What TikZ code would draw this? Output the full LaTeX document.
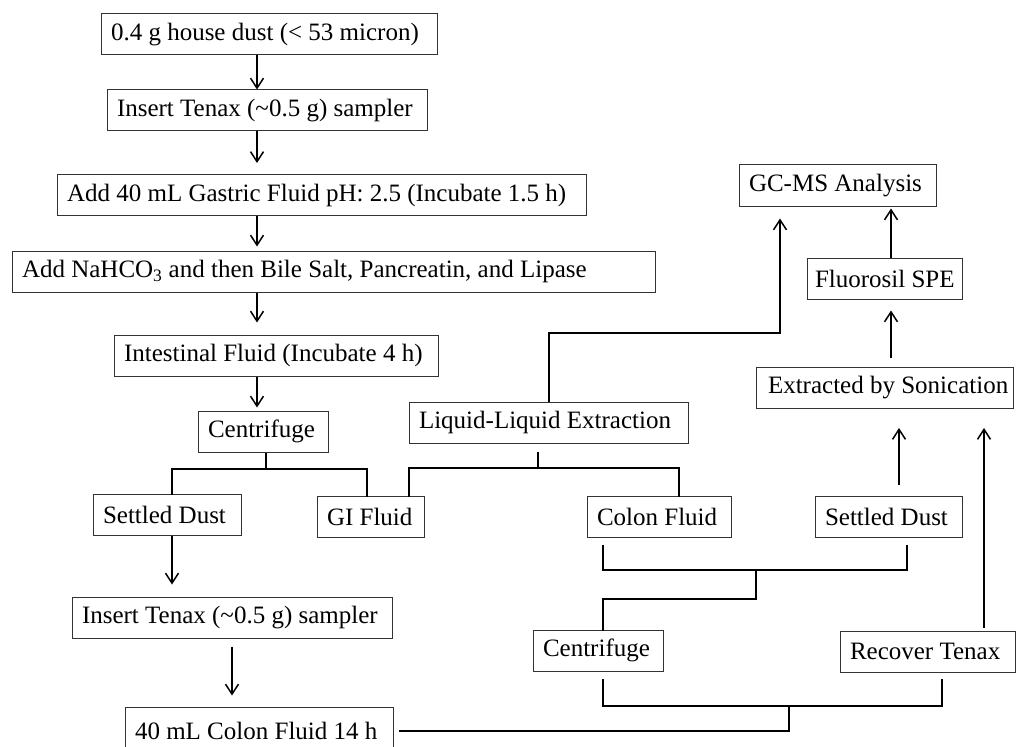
\documentclass[tikz,border=0pt]{standalone}
\usepackage{fontspec}
\setmainfont{Liberation Serif}
\usetikzlibrary{arrows.meta,calc}
\newcommand{\bx}[2]{\makebox[#1][l]{#2}}
\begin{document}
\begin{tikzpicture}[x=1pt,y=-1pt,
  box/.style={draw=black!80, line width=1pt, inner xsep=10pt, inner ysep=0pt, minimum height=41pt,
    font=\fontsize{25}{30}\selectfont},
  arr/.style={line width=1.5pt, -{Straight Barb[length=10pt,width=13pt,line width=1.5pt]}},
  brk/.style={line width=2.8pt, line cap=rect},
  thinl/.style={line width=2pt}]
\useasboundingbox (0,0) rectangle (1016,746);
\clip (0,0) rectangle (1016,746);
% x positions
\coordinate (x257) at (257,0);
\coordinate (x266) at (266,0);
\coordinate (x172) at (172,0);
\coordinate (x367) at (367,0);
\coordinate (x232) at (232,0);
\coordinate (x409) at (409,0);
\coordinate (x679) at (679,0);
\coordinate (x603) at (603,0);
\coordinate (x907) at (907,0);
\coordinate (x942) at (942,0);
\coordinate (x891) at (891,0);
\coordinate (x899) at (899,0);
\coordinate (x984) at (984,0);
% nodes
\node[box] (n1) at (269,34.5) {\bx{316pt}{0.4 g house dust (< 53 micron)}};
\node[box] (n2) at (267,110.5) {\bx{300pt}{Insert Tenax (\textasciitilde0.5 g) sampler}};
\node[box] (n3) at (321.5,195) {\bx{509pt}{Add 40 mL Gastric Fluid pH: 2.5 (Incubate 1.5 h)}};
\node[box] (n4) at (333.5,271.5) {\bx{623pt}{Add NaHCO\textsubscript{3} and then Bile Salt, Pancreatin, and Lipase}};
\node[box] (n5) at (276,355.5) {\bx{304pt}{Intestinal Fluid (Incubate 4 h)}};
\node[box] (c1) at (263,431.5) {\bx{110pt}{Centrifuge}};
\node[box] (sdL) at (167,515) {\bx{128pt}{Settled Dust}};
\node[box] (gi) at (370.5,516.5) {\bx{87pt}{GI Fluid}};
\node[box] (ll) at (548.5,422.5) {\bx{259pt}{Liquid-Liquid Extraction}};
\node[box] (gc) at (837.5,185.5) {\bx{177pt}{GC-MS Analysis}};
\node[box, inner xsep=8pt] (fl) at (884.5,278.5) {\bx{139pt}{Fluorosil SPE}};
\node[box, inner xsep=12pt] (ex) at (884.5,388) {\bx{233pt}{Extracted by Sonication}};
\node[box] (cf) at (659,516.5) {\bx{124pt}{Colon Fluid}};
\node[box] (sdR) at (888.5,516.5) {\bx{127pt}{Settled Dust}};
\node[box] (c2) at (598,650.5) {\bx{110pt}{Centrifuge}};
\node[box] (rt) at (927.5,651.5) {\bx{155pt}{Recover Tenax}};
\node[box] (it2) at (232,617.5) {\bx{300pt}{Insert Tenax (\textasciitilde0.5 g) sampler}};
\node[box, minimum height=48pt] (bot) at (259,731) {\bx{248pt}{40 mL Colon Fluid 14 h}};
% junctions
\coordinate (j1) at (266,469);
\coordinate (j2) at (538,468);
\coordinate (j3) at (780,333);
\coordinate (j4) at (756,570);
\coordinate (j5) at (603,599);
\coordinate (j6) at (789,706);
% main chain
\draw[arr] (n1.south -| x257) -- (n2.north -| x257);
\draw[arr, shorten >=11pt] (n2.south -| x257) -- (n3.north -| x257);
\draw[arr, shorten >=4pt] (n3.south -| x257) -- (n4.north -| x257);
\draw[arr, shorten >=12pt] (n4.south -| x257) -- (n5.north -| x257);
\draw[arr, shorten >=3pt] (n5.south -| x257) -- (c1.north -| x257);
% centrifuge split
\draw[thinl] (c1.south -| x266) -- (j1);
\draw[brk] (sdL.north -| x172) |- (j1) -| (gi.north -| x367);
% left lower chain
\draw[arr, shorten >=12pt] (sdL.south -| x172) -- (it2.north -| x172);
\draw[arr, shorten <=8pt, shorten >=11pt] (it2.south -| x232) -- (bot.north -| x232);
% GI / colon to liquid-liquid
\draw[brk] (gi.north -| x409) |- (j2) -| (cf.north -| x679);
\draw[brk, shorten <=10pt] (ll.south -| j2) -- (j2);
% liquid-liquid to GC-MS
\draw[arr, line width=2pt, shorten >=12pt] (ll.north) |- (j3) -- (gc.south -| j3);
% right column
\draw[arr, line width=2pt, shorten >=2pt] (fl.north -| x891) -- (gc.south -| x891);
\draw[arr, line width=2pt, shorten <=9pt, shorten >=11pt] (ex.north -| x891) -- (fl.south -| x891);
\draw[arr, line width=2pt, shorten <=11pt, shorten >=19pt] (sdR.north -| x899) -- (ex.south -| x899);
\draw[arr, line width=2pt, shorten <=3pt, shorten >=19pt] (rt.north -| x984) -- (ex.south -| x984);
% colon / settled dust bracket
\draw[brk, shorten <=9pt, shorten >=9pt] (cf.south -| x603) |- (j4) -| (sdR.south -| x907);
\draw[brk] (j4) |- (j5) -- (c2.north -| j5);
% centrifuge / recover tenax bracket
\draw[brk, shorten <=9pt, shorten >=8pt] (c2.south -| x603) |- (j6) -| (rt.south -| x942);
\draw[brk, shorten >=7pt] (j6) |- (bot.east);
\end{tikzpicture}
\end{document}
